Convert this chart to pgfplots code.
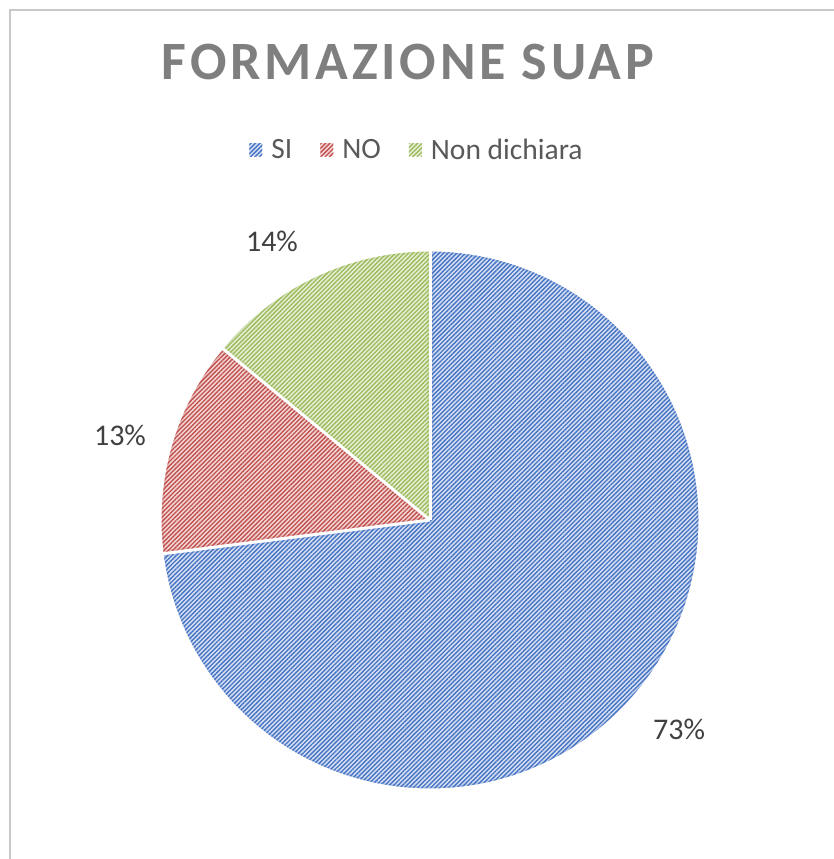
\documentclass[border=0pt]{standalone}
\usepackage{fontspec}
\setmainfont{Carlito}
\usepackage{pgfplots}
\pgfplotsset{compat=1.18}
\usepackage{pgfplotstable}
\usetikzlibrary{patterns.meta}

\definecolor{siLine}{RGB}{68,114,196}
\definecolor{siFill}{RGB}{216,225,242}
\definecolor{noLine}{RGB}{192,80,77}
\definecolor{noFill}{RGB}{243,216,215}
\definecolor{ndLine}{RGB}{155,187,89}
\definecolor{ndFill}{RGB}{232,238,216}
\definecolor{titleGray}{RGB}{127,127,127}
\definecolor{legGray}{RGB}{89,89,89}
\definecolor{labGray}{RGB}{64,64,64}
\definecolor{frameGray}{RGB}{200,200,200}

% share of each answer, in percent
\pgfplotstableread{
label value
SI 73
NO 13
Nondichiara 14
}\piedata

\tikzset{
  hatch/.style={pattern={Lines[angle=45,distance=3.1bp,line width=1.35bp]},pattern color=#1},
  pct/.style={text=labGray,font=\fontsize{30bp}{36bp}\selectfont,anchor=base,inner sep=0pt},
}
\newcommand\slicepath[2]{(axis cs:430,-520) -- ++(#1:270bp)
    arc[start angle=#1,end angle=#2,radius=270bp] -- cycle}
\newcommand\slice[4]{% start angle, end angle, fill colour, line colour
  \path[fill=#3,postaction={hatch=#4}] \slicepath{#1}{#2};
  \begin{scope}
    \clip \slicepath{#1}{#2};
    \draw[#4,draw opacity=0.22,line width=7bp] \slicepath{#1}{#2};
  \end{scope}
}
\newcommand\sep[1]{\draw[white,line width=3bp] (axis cs:430,-520) -- ++(#1:272bp);}

\begin{document}
\begin{tikzpicture}
\pgfplotstablegetelem{0}{value}\of\piedata \let\vA\pgfplotsretval
\pgfplotstablegetelem{1}{value}\of\piedata \let\vB\pgfplotsretval
\pgfplotstablegetelem{2}{value}\of\piedata \let\vC\pgfplotsretval
\pgfmathsetmacro\aA{90-3.6*\vA}
\pgfmathsetmacro\aB{\aA-3.6*\vB}
\pgfmathsetmacro\aC{\aB-3.6*\vC}
\begin{axis}[
  scale only axis,
  width=834bp, height=859bp,
  xmin=0, xmax=834, ymin=-859, ymax=0,
  hide axis,
  title={FORMAZIONE SUAP},
  title style={at={(0.4892,0.8999)},anchor=base,inner sep=0pt,text=titleGray,
    font=\fontsize{54bp}{60bp}\selectfont\bfseries\addfontfeatures{LetterSpace=7}},
  legend columns=-1,
  legend image code/.code={\path[#1] (0bp,-6.5bp) rectangle (13bp,6.5bp);},
  legend style={at={(axis cs:417,-150)},anchor=center,draw=none,fill=none,
    font=\fontsize{29.5bp}{36bp}\selectfont,text=legGray,
    /tikz/every odd column/.append style={column sep=7bp},
    /tikz/every even column/.append style={column sep=26bp}},
]
\coordinate (bl) at (axis cs:0,-859);
\coordinate (tr) at (axis cs:834,0);
\draw[frameGray,line width=2bp] (axis cs:10,-859) -- (axis cs:10,-10) -- (axis cs:834,-10);

\slice{90}{\aA}{siFill}{siLine}
\slice{\aA}{\aB}{noFill}{noLine}
\slice{\aB}{\aC}{ndFill}{ndLine}
\draw[white,line width=3bp] (axis cs:430,-520) circle[radius=270bp];
\sep{90}\sep{\aA}\sep{\aB}

\addlegendimage{fill=siFill,draw=none,postaction={hatch=siLine}}
\addlegendentry{SI}
\addlegendimage{fill=noFill,draw=none,postaction={hatch=noLine}}
\addlegendentry{NO}
\addlegendimage{fill=ndFill,draw=none,postaction={hatch=ndLine}}
\addlegendentry{Non dichiara}

\node[pct] at (axis cs:679,-740) {\vA\%};
\node[pct] at (axis cs:120,-446) {\vB\%};
\node[pct] at (axis cs:272,-252) {\vC\%};
\end{axis}
\pgfresetboundingbox
\path[use as bounding box] (bl) rectangle (tr);
\end{tikzpicture}
\end{document}
